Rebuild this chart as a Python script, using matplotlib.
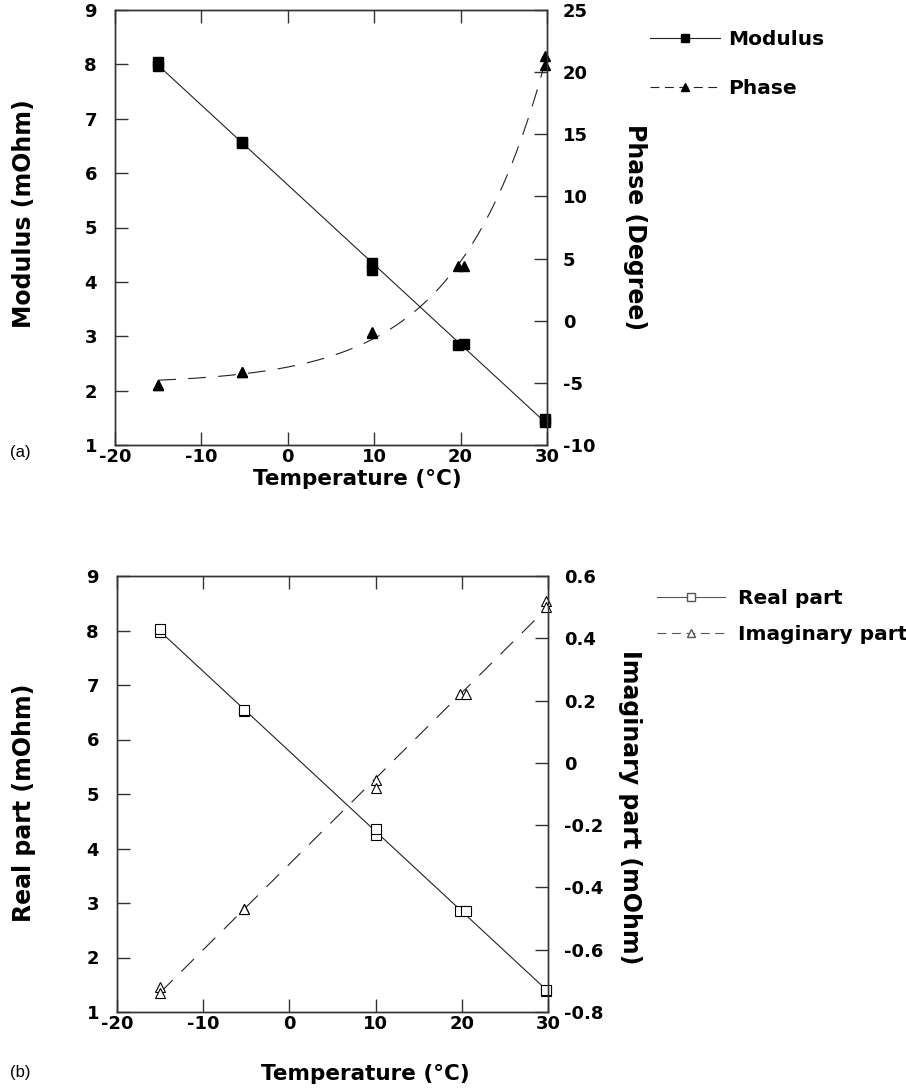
import numpy as np
import matplotlib
matplotlib.use("Agg")
import matplotlib.pyplot as plt
from matplotlib.lines import Line2D
from matplotlib.ticker import FuncFormatter

plt.rcParams['font.family'] = ['DejaVu Sans']
plt.rcParams['axes.unicode_minus'] = False

# ---------------- data ----------------
# panel (a)
temp_a = [-15, -15, -5.3, -5.3, 9.8, 9.8, 19.7, 20.4, 29.8, 29.8]
modulus = [7.97, 8.05, 6.55, 6.57, 4.22, 4.35, 2.84, 2.86, 1.42, 1.47]
phase = [-5.2, -5.2, -4.1, -4.1, -0.95, -0.9, 4.4, 4.4, 20.6, 21.3]

# panel (b)
temp_b = [-15, -15, -5.3, -5.3, 10, 10, 19.8, 20.5, 29.8, 29.8]
real_part = [7.97, 8.03, 6.53, 6.55, 4.25, 4.35, 2.86, 2.86, 1.39, 1.40]
imag_part = [-0.72, -0.74, -0.468, -0.47, -0.055, -0.08, 0.222, 0.222, 0.52, 0.50]

x_ticks = [-20, -10, 0, 10, 20, 30]
left_ticks = [1, 2, 3, 4, 5, 6, 7, 8, 9]
phase_ticks = [-10, -5, 0, 5, 10, 15, 20, 25]
imag_ticks = [-0.8, -0.6, -0.4, -0.2, 0, 0.2, 0.4, 0.6]

# ---------------- style ----------------
W, H = 906, 1090
fig = plt.figure(figsize=(W / 100, H / 100), dpi=100)

SPINE = '#333333'
LINE = '#222222'
TICKFS = 13
LABFS = 17
XLABFS = 15.5
LEGFS = 14.5
DASH = (16, 11)


def fmt(v, pos):
    v = round(v, 6)
    if v == 0:
        return '0'
    return '%g' % v


def style_axes(ax, ax2, ylim_r, rticks):
    ax.set_xlim(-20, 30)
    ax.set_ylim(1, 9)
    ax.set_xticks(x_ticks)
    ax.set_yticks(left_ticks)
    ax2.set_ylim(*ylim_r)
    ax2.set_yticks(rticks)
    ax2.yaxis.set_major_formatter(FuncFormatter(fmt))
    ax.xaxis.set_major_formatter(FuncFormatter(fmt))
    ax.tick_params(axis='x', direction='in', length=9.5, width=1.0, color=SPINE,
                   top=True, labelsize=TICKFS, pad=2.5)
    ax.tick_params(axis='y', direction='in', length=9.5, width=1.0, color=SPINE,
                   right=False, labelsize=TICKFS, pad=13)
    ax2.tick_params(axis='y', direction='in', length=9.5, width=1.0, color=SPINE,
                    labelsize=TICKFS, pad=11.5)
    for a in (ax, ax2):
        for s in a.spines.values():
            s.set_color(SPINE)
            s.set_linewidth(1.0)
    for lab in ax.get_xticklabels() + ax.get_yticklabels() + ax2.get_yticklabels():
        lab.set_fontweight('bold')


def exp_fit(x, y):
    # least-squares fit of y = a + b*exp(x/tau), tau chosen by grid search
    x = np.asarray(x, float)
    y = np.asarray(y, float)
    best = None
    for tau in np.linspace(3, 40, 400):
        A = np.column_stack([np.ones_like(x), np.exp(x / tau)])
        coef, res, *_ = np.linalg.lstsq(A, y, rcond=None)
        err = np.sum((A @ coef - y) ** 2)
        if best is None or err < best[0]:
            best = (err, tau, coef)
    _, tau, coef = best
    return lambda t: coef[0] + coef[1] * np.exp(np.asarray(t) / tau)


# ---------------- panel (a) ----------------
ax_a = fig.add_axes([115 / W, 1 - 445 / H, 432 / W, 435 / H])
ax_a2 = ax_a.twinx()
style_axes(ax_a, ax_a2, (-10, 25), phase_ticks)

ta = np.array(temp_a)
xs = np.linspace(min(temp_a), max(temp_a), 300)
cm = np.polyfit(ta, modulus, 1)
ax_a.plot(xs, np.polyval(cm, xs), color=LINE, lw=0.8)
ax_a.plot(temp_a, modulus, ls='none', marker='s', ms=7.5, color='black', clip_on=False)

fp = exp_fit(temp_a, phase)
ax_a2.plot(xs, fp(xs), color=LINE, lw=0.8, dashes=DASH)
ax_a2.plot(temp_a, phase, ls='none', marker='^', ms=7.5, color='black', clip_on=False)

ax_a.set_xlabel('Temperature (°C)', fontsize=XLABFS, fontweight='bold')
ax_a.set_ylabel('Modulus (mOhm)', fontsize=LABFS, fontweight='bold')
ax_a2.set_ylabel('Phase (Degree)', fontsize=LABFS, fontweight='bold', rotation=270)
for lbl in (ax_a.xaxis.label, ax_a.yaxis.label, ax_a2.yaxis.label):
    lbl.set_rotation_mode('default')
    lbl.set_va('center')
    lbl.set_ha('center')
ax_a.xaxis.set_label_coords((357 - 115) / 432, (445 - 479) / 435)
ax_a.yaxis.set_label_coords((24 - 115) / 432, 0.533)
ax_a2.yaxis.set_label_coords((635 - 115) / 432, 0.50)

h1 = Line2D([], [], color=LINE, lw=0.8, marker='s', ms=6, mfc='black', mec='black')
h2 = Line2D([], [], color=LINE, lw=0.8, marker='^', ms=6, mfc='black', mec='black',
            dashes=(8, 5))
ax_a.legend([h1, h2], ['Modulus', 'Phase'], loc='upper left',
            bbox_to_anchor=(650 / W, 1 - 30 / H), bbox_transform=fig.transFigure,
            frameon=False, borderpad=0, borderaxespad=0, handlelength=3.5,
            handletextpad=0.4, labelspacing=1.5, numpoints=1,
            prop={'size': LEGFS, 'weight': 'bold'})

fig.text(10 / W, 1 - 453 / H, '(a)', fontsize=12, family='Liberation Sans',
         ha='left', va='center')

# ---------------- panel (b) ----------------
ax_b = fig.add_axes([117 / W, 1 - 1012 / H, 431 / W, 436 / H])
ax_b2 = ax_b.twinx()
style_axes(ax_b, ax_b2, (-0.8, 0.6), imag_ticks)

tb = np.array(temp_b)
xs = np.linspace(min(temp_b), max(temp_b), 300)
cr = np.polyfit(tb, real_part, 1)
ax_b.plot(xs, np.polyval(cr, xs), color=LINE, lw=0.8)
ax_b.plot(temp_b, real_part, ls='none', marker='s', ms=7.5, mfc='white', mec='black',
          mew=0.8, clip_on=False)
ci = np.polyfit(tb, imag_part, 1)
ax_b2.plot(xs, np.polyval(ci, xs), color=LINE, lw=0.8, dashes=DASH)
ax_b2.plot(temp_b, imag_part, ls='none', marker='^', ms=7.5, mfc='white', mec='black',
           mew=0.8, clip_on=False)

ax_b.set_xlabel('Temperature (°C)', fontsize=XLABFS, fontweight='bold')
ax_b.set_ylabel('Real part (mOhm)', fontsize=LABFS, fontweight='bold')
ax_b2.set_ylabel('Imaginary part (mOhm)', fontsize=LABFS, fontweight='bold', rotation=270)
for lbl in (ax_b.xaxis.label, ax_b.yaxis.label, ax_b2.yaxis.label):
    lbl.set_rotation_mode('default')
    lbl.set_va('center')
    lbl.set_ha('center')
ax_b.xaxis.set_label_coords((365 - 117) / 431, (1012 - 1074) / 436)
ax_b.yaxis.set_label_coords((24 - 117) / 431, 0.48)
ax_b2.yaxis.set_label_coords((630 - 117) / 431, 0.47)

h3 = Line2D([], [], color='#555555', lw=0.8, marker='s', ms=6, mfc='white', mec='#555555')
h4 = Line2D([], [], color='#555555', lw=0.8, marker='^', ms=6, mfc='white', mec='#555555',
            dashes=(8, 5))
ax_b.legend([h3, h4], ['Real part', 'Imaginary part'], loc='upper left',
            bbox_to_anchor=(657 / W, 1 - 589 / H), bbox_transform=fig.transFigure,
            frameon=False, borderpad=0, borderaxespad=0, handlelength=3.4,
            handletextpad=0.6, labelspacing=0.85, numpoints=1,
            prop={'size': LEGFS, 'weight': 'bold'})

fig.text(10 / W, 1 - 1073 / H, '(b)', fontsize=12, family='Liberation Sans',
         ha='left', va='center')

fig.savefig('out.png', dpi=100)
